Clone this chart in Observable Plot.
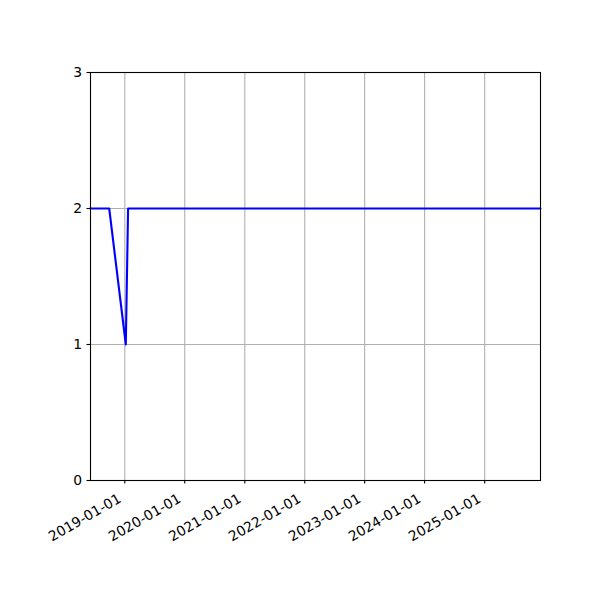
<!DOCTYPE html>
<html>
<head>
<meta charset="utf-8">
<script src="https://cdn.jsdelivr.net/npm/d3@7"></script>
<script src="https://cdn.jsdelivr.net/npm/@observablehq/plot@0.6"></script>
<style>
  html, body { margin: 0; padding: 0; background: white; }
  #chart { width: 600px; height: 600px; }
</style>
</head>
<body>
<div id="chart"></div>
<script>
// Data
const dates = ["2018-06-06", "2018-09-28", "2019-01-07", "2019-01-21", "2025-12-07"];
const values = [2, 2, 1, 2, 2];
const xTickLabels = ["2019-01-01", "2020-01-01", "2021-01-01", "2022-01-01", "2023-01-01", "2024-01-01", "2025-01-01"];
const yTicks = [0, 1, 2, 3];
const xDomain = ["2018-06-06", "2025-12-07"];

const data = dates.map((d, i) => ({date: new Date(d + "T00:00:00Z"), value: values[i]}));
const xTicks = xTickLabels.map(d => new Date(d + "T00:00:00Z"));
const fmt = d3.utcFormat("%Y-%m-%d");

const chart = Plot.plot({
  width: 600,
  height: 600,
  marginLeft: 90,
  marginRight: 60,
  marginTop: 72,
  marginBottom: 120,
  style: {fontFamily: "DejaVu Sans", fontSize: "13.9px", background: "white", color: "black"},
  x: {type: "utc", domain: xDomain.map(d => new Date(d + "T00:00:00Z"))},
  y: {domain: [0, 3]},
  marks: [
    Plot.gridX(xTicks, {stroke: "#b0b0b0", strokeOpacity: 1, strokeWidth: 1.1}),
    Plot.gridY(yTicks, {stroke: "#b0b0b0", strokeOpacity: 1, strokeWidth: 1.1}),
    Plot.line(data, {x: "date", y: "value", stroke: "#0000ff", strokeWidth: 2.1}),
    Plot.frame({stroke: "black", strokeWidth: 1.1}),
    Plot.axisX(xTicks, {tickFormat: () => "", tickSize: 3.5, label: null, strokeWidth: 1.1}),
    Plot.axisX(xTicks, {tickFormat: fmt, tickRotate: -30, tickSize: 0, tickPadding: 4, label: null, dy: 13, dx: -5, fontSize: 13.9}),
    Plot.axisY(yTicks, {tickFormat: d3.format("d"), tickSize: 3.5, tickPadding: 5, label: null, strokeWidth: 1.1, fontSize: 13.9})
  ]
});
document.getElementById("chart").appendChild(chart);
</script>
</body>
</html>
